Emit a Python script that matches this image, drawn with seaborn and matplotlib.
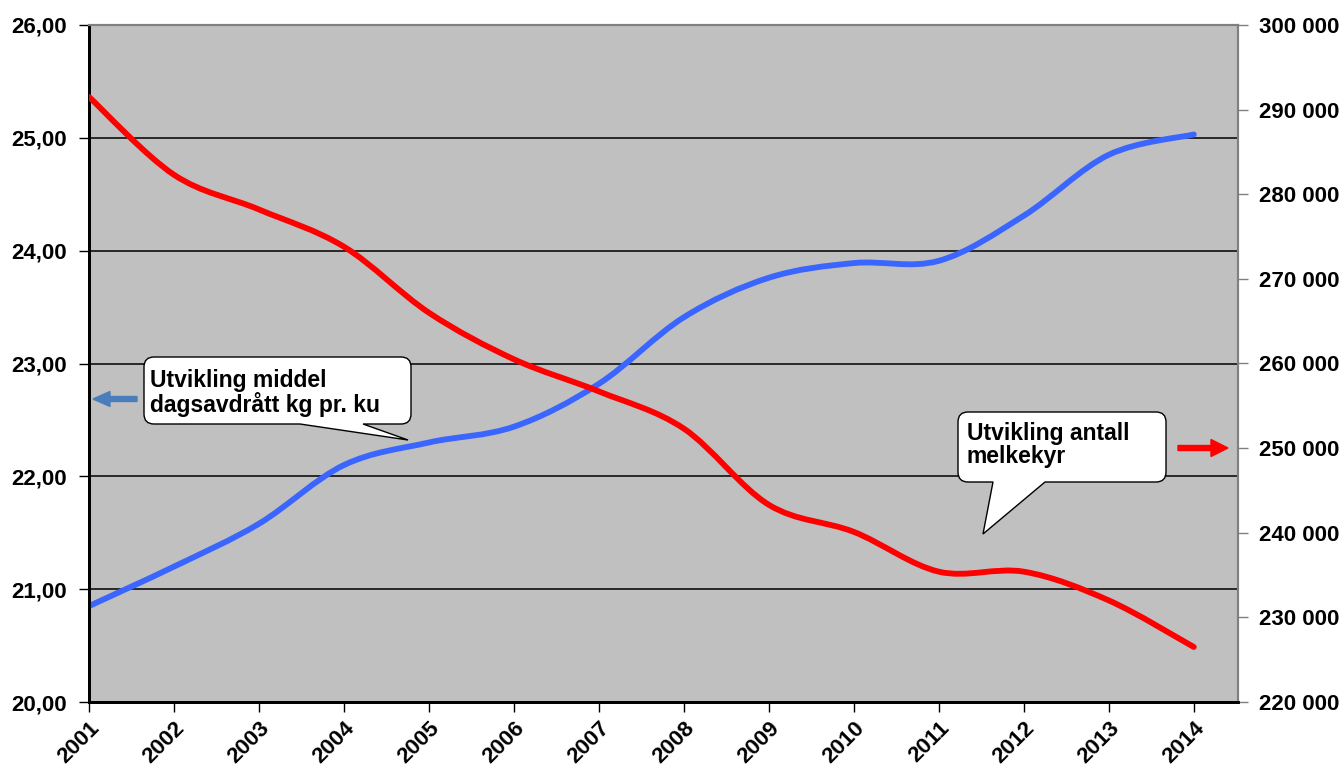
import numpy as np
import matplotlib
matplotlib.use("Agg")
import matplotlib.pyplot as plt
import seaborn as sns
from matplotlib.path import Path
from matplotlib.patches import PathPatch, FancyArrow
from matplotlib.transforms import Affine2D
from matplotlib.ticker import FuncFormatter

# ---- data ----
years = [2001, 2002, 2003, 2004, 2005, 2006, 2007, 2008, 2009, 2010, 2011, 2012, 2013, 2014]
milk_per_cow = [20.85, 21.20, 21.58, 22.10, 22.30, 22.44, 22.82, 23.41, 23.76, 23.89, 23.91, 24.31, 24.85, 25.03]
dairy_cows = [291500, 282300, 278200, 273800, 266000, 260500, 256700, 252300, 243300, 240100, 235400, 235400, 232000, 226500]
left_ticks = [20, 21, 22, 23, 24, 25, 26]
right_ticks = [220000, 230000, 240000, 250000, 260000, 270000, 280000, 290000, 300000]
label_milk = "Utvikling middel\ndagsavdrått kg pr. ku"
label_cows = "Utvikling antall\nmelkekyr"

sns.set_theme(style="white")
plt.rcParams['font.family'] = ['Liberation Sans', 'DejaVu Sans']
plt.rcParams['font.weight'] = 'bold'

W, H = 1342, 765
fig = plt.figure(figsize=(W / 100, H / 100), dpi=100)
fig.patch.set_facecolor('white')
L, R, T, B = 89, 1238, 25, 702
ax = fig.add_axes([L / W, (H - B) / H, (R - L) / W, (B - T) / H])
ax2 = ax.twinx()

ax.set_facecolor('#C0C0C0')


def smooth_path(xs, ys):
    pts = np.column_stack([xs, ys]).astype(float)
    n = len(pts)
    verts = [pts[0]]
    codes = [Path.MOVETO]
    for i in range(n - 1):
        p0 = pts[max(i - 1, 0)]
        p1 = pts[i]
        p2 = pts[i + 1]
        p3 = pts[min(i + 2, n - 1)]
        c1 = p1 + (p2 - p0) / 6.0
        c2 = p2 - (p3 - p1) / 6.0
        verts += [c1, c2, p2]
        codes += [Path.CURVE4] * 3
    return Path(verts, codes)


lw = 4.2
blue = PathPatch(smooth_path(years, milk_per_cow), facecolor='none', edgecolor='#3A66FF',
                 lw=lw, capstyle='round', joinstyle='round', zorder=3)
ax.add_patch(blue)
red = PathPatch(smooth_path(years, dairy_cows), facecolor='none', edgecolor='#FF0000',
                lw=lw, capstyle='round', joinstyle='round', zorder=3)
ax2.add_patch(red)

ax.set_xlim(2001, 2014.52)
ax.set_ylim(20, 26)
ax2.set_ylim(220000, 300000)

ax.set_yticks(left_ticks)
ax.yaxis.set_major_formatter(FuncFormatter(lambda v, p: f"{v:.2f}".replace('.', ',')))
ax2.set_yticks(right_ticks)
ax2.yaxis.set_major_formatter(FuncFormatter(lambda v, p: f"{int(round(v)):,}".replace(',', ' ')))
ax.set_xticks(years)
ax.set_xticklabels([str(y) for y in years], rotation=45, ha='right', rotation_mode='anchor')

fs = 16
ax.tick_params(axis='y', direction='out', length=7, width=1, color='black', pad=9,
               labelsize=fs, left=True)
ax.tick_params(axis='x', direction='out', length=7, width=1, color='black', pad=4,
               labelsize=fs, bottom=True)
ax2.tick_params(axis='y', direction='out', length=7, width=1, color='#808080', pad=8,
                labelsize=fs, right=True)
for lab in ax.get_xticklabels() + ax.get_yticklabels() + ax2.get_yticklabels():
    lab.set_fontweight('bold')
    lab.set_color('black')

ax.yaxis.grid(True, color='black', lw=1.1)
ax.xaxis.grid(False)
ax.set_axisbelow(True)
for a in (ax, ax2):
    a.spines['left'].set_color('black')
    a.spines['left'].set_linewidth(2)
    a.spines['bottom'].set_color('black')
    a.spines['bottom'].set_linewidth(2)
    a.spines['top'].set_color('#808080')
    a.spines['top'].set_linewidth(1.5)
    a.spines['right'].set_color('#808080')
    a.spines['right'].set_linewidth(1.5)
ax2.grid(False)

# pixel transform (y measured from top)
px = Affine2D().scale(1 / W, -1 / H).translate(0, 1) + fig.transFigure


def callout(x0, y0, x1, y1, tail_right, tip, tail_left, r=10):
    verts = [
        (x0 + r, y0), (x1 - r, y0), (x1, y0), (x1, y0 + r),
        (x1, y1 - r), (x1, y1), (x1 - r, y1),
        (tail_right, y1), tip, (tail_left, y1),
        (x0 + r, y1), (x0, y1), (x0, y1 - r),
        (x0, y0 + r), (x0, y0), (x0 + r, y0), (x0 + r, y0)]
    codes = [Path.MOVETO, Path.LINETO, Path.CURVE3, Path.CURVE3,
             Path.LINETO, Path.CURVE3, Path.CURVE3,
             Path.LINETO, Path.LINETO, Path.LINETO,
             Path.LINETO, Path.CURVE3, Path.CURVE3,
             Path.LINETO, Path.CURVE3, Path.CURVE3, Path.CLOSEPOLY]
    p = PathPatch(Path(verts, codes), facecolor='white', edgecolor='black', lw=1.0,
                  transform=px, zorder=10)
    fig.add_artist(p)


callout(144, 357, 411, 424, 363, (408, 440), 300)
fig.text(150 / W, 1 - 369 / H, label_milk, fontsize=16.5, fontweight='bold', color='black',
         va='top', ha='left', linespacing=1.0, zorder=11)

callout(958, 412, 1166, 482, 1045, (983, 534), 993)
fig.text(967 / W, 1 - 422 / H, label_cows, fontsize=16.5, fontweight='bold', color='black',
         va='top', ha='left', linespacing=1.0, zorder=11)

fig.add_artist(FancyArrow(137, 399, -44, 0, width=5, head_width=15, head_length=17,
                          length_includes_head=True, color='#4A7EBB', transform=px, zorder=10))
fig.add_artist(FancyArrow(1178, 448, 50, 0, width=5, head_width=17, head_length=17,
                          length_includes_head=True, color='#FF0000', transform=px, zorder=10))

fig.savefig('out.png', dpi=100, facecolor='white')
